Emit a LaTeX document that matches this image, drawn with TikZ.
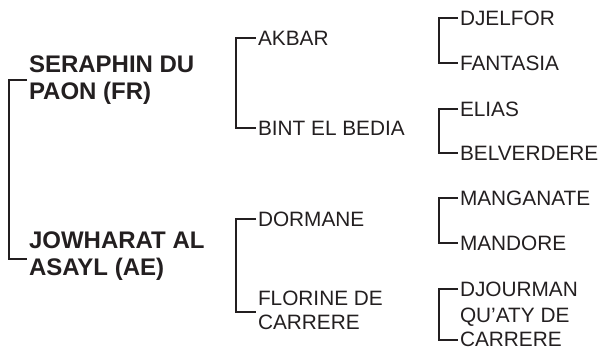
\documentclass[tikz,border=0pt]{standalone}
\usepackage{fontspec}
\setmainfont{Liberation Sans}
\definecolor{pedline}{RGB}{35,31,32}

\tikzset{every picture/.style={line width=1.5pt}}

\begin{document}
\begin{tikzpicture}[x=0.75pt,y=0.75pt,yscale=-1,xscale=1,
	sire/.style={anchor=west,inner sep=0.75pt,align=left,text=pedline,font=\fontsize{18}{20.8}\selectfont\bfseries},
	anc/.style={anchor=west,inner sep=0.75pt,align=left,text=pedline,font=\fontsize{15.6}{18}\selectfont},
	bracket/.style={draw=pedline,line width=1.5pt}]
	\useasboundingbox (0,0) rectangle (602,354); %set diagram size to 602 x 354
	
	%first generation
	\draw (27,80) node [sire] (seraphin) {SERAPHIN DU\\PAON (FR)};
	\draw (27,256) node [sire] (jowharat) {JOWHARAT AL\\ASAYL (AE)};
	
	%second generation
	\draw (256,38) node [anc] (akbar) {AKBAR};
	\draw (256,128) node [anc] (bint) {BINT EL BEDIA};
	\draw (256,219) node [anc] (dormane) {DORMANE};
	\draw (256,310) node [anc] (florine) {FLORINE DE\\CARRERE};
	
	%third generation
	\draw (458,18) node [anc] (djelfor) {DJELFOR};
	\draw (458,63) node [anc] (fantasia) {FANTASIA};
	\draw (458,109) node [anc] (elias) {ELIAS};
	\draw (458,153) node [anc] (belverdere) {BELVERDERE};
	\draw (458,198) node [anc] (manganate) {MANGANATE};
	\draw (458,243) node [anc] (mandore) {MANDORE};
	\draw (458,289) node [anc] (djourman) {DJOURMAN};
	\draw (458,327) node [anc] (quaty) {QU'ATY DE\\CARRERE};
	
	%brackets
	\draw [bracket] (seraphin.west) -- ++(-18,0) |- ([yshift=2.25pt]jowharat.west);
	\draw [bracket] (akbar.west) -- ++(-20,0) |- (bint.west);
	\draw [bracket] (dormane.west) -- ++(-20,0) |- ([yshift=1.5pt]florine.west);
	\draw [bracket] (djelfor.west) -- ++(-19,0) |- (fantasia.west);
	\draw [bracket] (elias.west) -- ++(-19,0) |- (belverdere.west);
	\draw [bracket] (manganate.west) -- ++(-19,0) |- (mandore.west);
	\draw [bracket] (djourman.west) -- ++(-19,0) |- ([yshift=9.75pt]quaty.west);
	
\end{tikzpicture}
\end{document}
